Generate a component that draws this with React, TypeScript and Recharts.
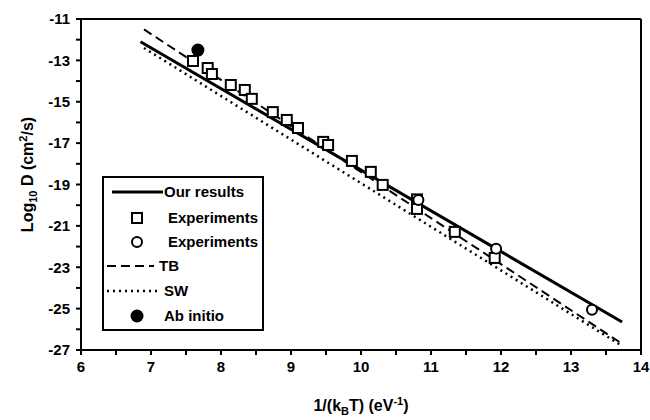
import { ComposedChart, Line, Scatter, XAxis, YAxis, ReferenceLine, Label } from 'recharts'

const ourX = [6.85, 13.73]
const ourY = [-12.1, -25.65]
const tbX = [6.9, 13.73]
const tbY = [-11.5, -26.7]
const swX = [6.9, 13.73]
const swY = [-12.4, -26.8]

const sqX = [7.6, 7.81, 7.87, 8.14, 8.34, 8.44, 8.74, 8.94, 9.1, 9.46, 9.53, 9.87, 10.14, 10.31, 10.8, 10.8, 11.34, 11.91]
const sqY = [-13.03, -13.37, -13.66, -14.19, -14.43, -14.86, -15.5, -15.88, -16.27, -16.94, -17.09, -17.86, -18.39, -19.02, -19.72, -20.18, -21.29, -22.55]
const ciX = [10.82, 11.93, 13.3]
const ciY = [-19.75, -22.1, -25.06]
const abX = [7.67]
const abY = [-12.5]

const xTicks = [6, 6.5, 7, 7.5, 8, 8.5, 9, 9.5, 10, 10.5, 11, 11.5, 12, 12.5, 13, 13.5, 14]
const yTicks = [-27, -26, -25, -24, -23, -22, -21, -20, -19, -18, -17, -16, -15, -14, -13, -12, -11]

const zip = (xs: number[], ys: number[]) => xs.map((x, i) => ({ x, y: ys[i] }))

const ourData = zip(ourX, ourY)
const tbData = zip(tbX, tbY)
const swData = zip(swX, swY)
const sqData = zip(sqX, sqY)
const ciData = zip(ciX, ciY)
const abData = zip(abX, abY)

const font = 'Liberation Sans, Arial, sans-serif'

const Square = (p: any) => (
  <rect x={p.cx - 5} y={p.cy - 5} width={10} height={10} fill="#fff" stroke="#000" strokeWidth={2} />
)
const OpenCircle = (p: any) => <circle cx={p.cx} cy={p.cy} r={5} fill="#fff" stroke="#000" strokeWidth={2} />
const FilledCircle = (p: any) => <circle cx={p.cx} cy={p.cy} r={6.5} fill="#000" />

// axis titles with sub/superscripts
const YLabel = (props: any) => {
  const vb = props.viewBox
  const cx = 33
  const cy = vb.y + vb.height / 2 - 10
  return (
    <text x={cx} y={cy} transform={`rotate(-90 ${cx} ${cy})`} textAnchor="middle" fontFamily={font} fontSize={16} fontWeight="bold" fill="#000">
      Log<tspan fontSize={11} dy={4}>10</tspan>
      <tspan dy={-4}> D (cm</tspan>
      <tspan fontSize={11} dy={-6}>2</tspan>
      <tspan dy={6}>/s)</tspan>
    </text>
  )
}

const XLabel = (props: any) => {
  const vb = props.viewBox
  const cx = vb.x + vb.width / 2
  return (
    <text x={cx} y={411} textAnchor="middle" fontFamily={font} fontSize={16} fontWeight="bold" fill="#000">
      1/(k<tspan fontSize={11} dy={4}>B</tspan>
      <tspan dy={-4}>T) (eV</tspan>
      <tspan fontSize={11} dy={-6}>-1</tspan>
      <tspan dy={6}>)</tspan>
    </text>
  )
}

const LegendBox = () => (
  <svg width={162} height={155} style={{ position: 'absolute', left: 102, top: 176 }}>
    <rect x={1} y={1} width={160} height={153} fill="#fff" stroke="#000" strokeWidth={2} />
    <g fontFamily={font} fontSize={15} fontWeight="bold" fill="#000">
      <line x1={10} y1={16} x2={61} y2={16} stroke="#000" strokeWidth={3} />
      <text x={62} y={21}>Our results</text>
      <rect x={30} y={37} width={10} height={10} fill="#fff" stroke="#000" strokeWidth={2} />
      <text x={66} y={47}>Experiments</text>
      <circle cx={35} cy={66} r={5} fill="#fff" stroke="#000" strokeWidth={2} />
      <text x={66} y={71}>Experiments</text>
      <line x1={5} y1={90} x2={52} y2={90} stroke="#000" strokeWidth={2} strokeDasharray="9 5" />
      <text x={57} y={95}>TB</text>
      <line x1={5} y1={115} x2={56} y2={115} stroke="#000" strokeWidth={2.5} strokeDasharray="2 4" />
      <text x={62} y={120}>SW</text>
      <circle cx={35} cy={140} r={6.5} fill="#000" />
      <text x={62} y={145}>Ab initio</text>
    </g>
  </svg>
)

export default function App() {
  return (
    <div style={{ position: 'absolute', left: 0, top: 0, width: 650, height: 420, background: '#fff' }}>
      <ComposedChart width={650} height={420} margin={{ top: 19, right: 9, bottom: 30, left: 0 }}>
        <XAxis
          type="number"
          dataKey="x"
          domain={[6, 14]}
          ticks={xTicks}
          interval={0}
          allowDataOverflow
          height={40}
          tickSize={5}
          tickMargin={6}
          axisLine={{ stroke: '#000', strokeWidth: 2 }}
          tickLine={{ stroke: '#000', strokeWidth: 2 }}
          tick={{ fill: '#000', fontSize: 15, fontFamily: font, fontWeight: 'bold' }}
          tickFormatter={(v: number) => (Number.isInteger(v) ? String(v) : '')}
        >
          <Label content={<XLabel />} />
        </XAxis>
        <YAxis
          type="number"
          dataKey="y"
          domain={[-27, -11]}
          ticks={yTicks}
          interval={0}
          allowDataOverflow
          width={81}
          tickSize={5}
          tickMargin={6}
          axisLine={{ stroke: '#000', strokeWidth: 2 }}
          tickLine={{ stroke: '#000', strokeWidth: 2 }}
          tick={{ fill: '#000', fontSize: 15, fontFamily: font, fontWeight: 'bold' }}
          tickFormatter={(v: number) => (Math.abs(v) % 2 === 1 ? String(v) : '')}
        >
          <Label content={<YLabel />} />
        </YAxis>
        <ReferenceLine y={-11} stroke="#000" strokeWidth={2} />
        <ReferenceLine x={14} stroke="#000" strokeWidth={2} />
        <Line data={swData} dataKey="y" stroke="#000" strokeWidth={2.5} strokeDasharray="2 4" dot={false} isAnimationActive={false} />
        <Line data={tbData} dataKey="y" stroke="#000" strokeWidth={2} strokeDasharray="9 5" dot={false} isAnimationActive={false} />
        <Line data={ourData} dataKey="y" stroke="#000" strokeWidth={3} dot={false} isAnimationActive={false} />
        <Scatter data={sqData} dataKey="y" shape={Square} isAnimationActive={false} />
        <Scatter data={ciData} dataKey="y" shape={OpenCircle} isAnimationActive={false} />
        <Scatter data={abData} dataKey="y" shape={FilledCircle} isAnimationActive={false} />
      </ComposedChart>
      <LegendBox />
    </div>
  )
}
